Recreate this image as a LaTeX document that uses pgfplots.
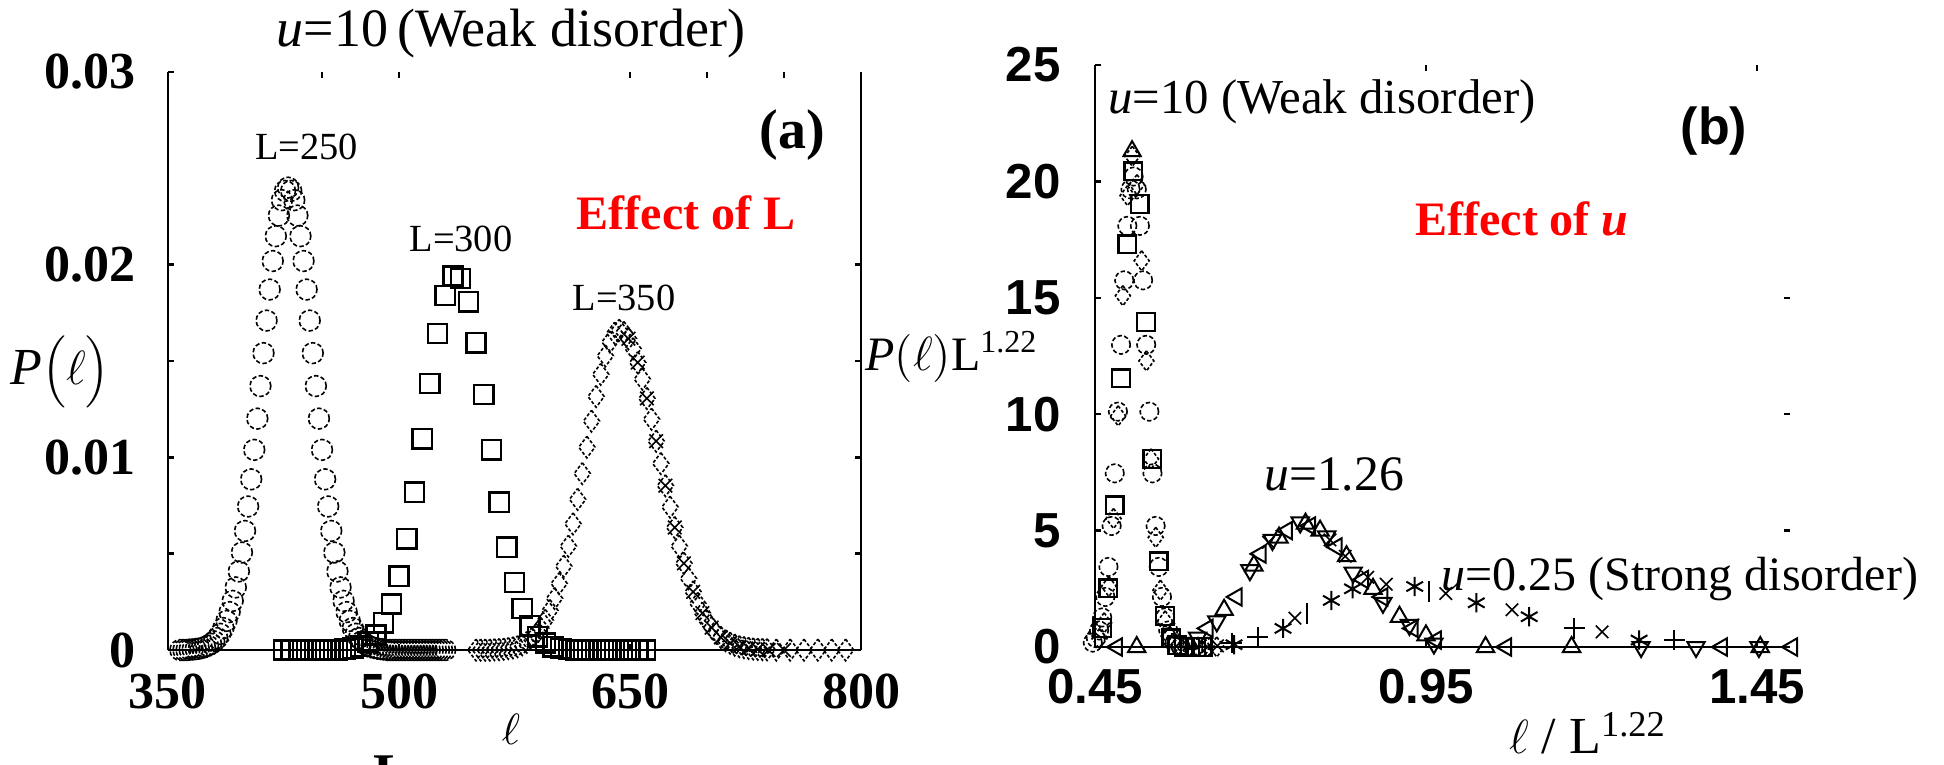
\documentclass[border=0pt]{standalone}
\usepackage{fontspec}
\setmainfont{Liberation Serif}
\setsansfont{Liberation Sans}
\usepackage{pgfplots}
\pgfplotsset{compat=1.18}

\pgfplotsset{
  panel/.style={scale only axis, anchor=south west, enlargelimits=false, clip=false,
    scaled ticks=false, axis line style={-, line width=0.55pt},
    tick align=inside, major tick length=1.6pt, minor tick length=1.6pt,
    tick style={black, line width=0.6pt}},
  circ/.style={black, only marks, mark=o, mark size=#1,
    mark options={line width=0.4pt, dash pattern=on 1.1pt off 0.6pt}},
  sq/.style={black, only marks, mark=square, mark size=#1, mark options={line width=0.6pt}},
  dia/.style={black, only marks, mark=diamond, mark size=#1,
    mark options={line width=0.4pt, dash pattern=on 0.8pt off 0.5pt}},
  cross/.style={black, only marks, mark=x, mark size=#1, mark options={line width=0.4pt}},
  tri/.style={black, only marks, mark=triangle, mark size=2.5pt, mark options={line width=0.5pt}},
  trid/.style={black, only marks, mark=triangle, mark size=2.5pt, mark options={line width=0.5pt, rotate=180}},
  tril/.style={black, only marks, mark=triangle, mark size=2.5pt, mark options={line width=0.5pt, rotate=90}},
}

\begin{document}
\begin{tikzpicture}[x=1pt,y=1pt]
\path[use as bounding box] (0,0) rectangle (486,191);

% ---------- panel (a)
\begin{axis}[panel, at={(42pt,28.5pt)}, width=173.25pt, height=144.5pt,
  xmin=350, xmax=800, ymin=0, ymax=0.03,
  axis x line*=bottom, axis y line*=left,
  xtick={350,500,650,800}, xticklabels={350,500,650,800},
  ytick={0,0.01,0.02,0.03}, yticklabels={0,0.01,0.02,0.03},
  minor ytick={0.005,0.015},
  ticklabel style={font=\fontsize{13}{13}\selectfont\bfseries},
  xticklabel style={yshift=-2.4pt}, yticklabel style={xshift=-4.7pt}]
% L=250
\addplot[circ=2.6pt] coordinates {
(358,0) (360,0) (362,0) (364,0.00002) (366,0.00003) (368,0.00005) (370,0.00007) (372,0.00011)
(374,0.00015) (376,0.00022) (378,0.00032) (380,0.00045) (382,0.00062) (384,0.00084) (386,0.00114)
(388,0.00151) (390,0.00197) (392,0.00255) (394,0.00325) (396,0.00408) (398,0.00506) (400,0.00618)
(402,0.00745) (404,0.00886) (406,0.01039) (408,0.01201) (410,0.01370) (412,0.01541) (414,0.01710)
(416,0.01871) (418,0.02019) (420,0.02148) (422,0.02255) (424,0.02335) (426,0.02383) (428,0.02400)
(430,0.02383) (432,0.02335) (434,0.02255) (436,0.02148) (438,0.02019) (440,0.01871) (442,0.01710)
(444,0.01541) (446,0.01370) (448,0.01201) (450,0.01039) (452,0.00886) (454,0.00745) (456,0.00618)
(458,0.00506) (460,0.00408) (462,0.00325) (464,0.00255) (466,0.00197) (468,0.00151) (470,0.00114)
(472,0.00084) (474,0.00062) (476,0.00045) (478,0.00032) (480,0.00022) (482,0.00015) (484,0.00011)
(486,0.00007) (488,0.00005) (490,0.00003) (492,0) (494,0) (496,0) (498,0) (500,0) (502,0) (504,0)
(506,0) (508,0) (510,0) (512,0) (514,0) (516,0) (518,0) (520,0) (522,0) (524,0) (526,0) (528,0) (530,0)
};
% L=300
\addplot[sq=2.4pt] coordinates {
(425,0) (430,0) (435,0) (440,0) (445,0) (450,0) (455,0) (460,0) (465,0.00004) (470,0.00009)
(475,0.00020) (480,0.00041) (485,0.00078) (490,0.00141) (495,0.00239) (500,0.00383) (505,0.00577)
(510,0.00819) (515,0.01096) (520,0.01383) (525,0.01643) (530,0.01840) (535,0.01941) (540,0.01929)
(545,0.01807) (550,0.01595) (555,0.01326) (560,0.01039) (565,0.00767) (570,0.00534) (575,0.00350)
(580,0.00216) (585,0.00126) (590,0.00069) (595,0.00036) (600,0.00017) (605,0.00008) (610,0.00003)
(615,0) (620,0) (625,0) (630,0) (635,0) (640,0) (645,0) (650,0) (655,0) (660,0)
};
% L=350
\addplot[dia=2.7pt] coordinates {
(550,0) (553,0) (556,0) (559,0) (562,0.00002) (565,0.00003) (568,0.00005) (571,0.00008) (574,0.00012)
(577,0.00018) (580,0.00028) (583,0.00040) (586,0.00058) (589,0.00082) (592,0.00113) (595,0.00154)
(598,0.00205) (601,0.00268) (604,0.00345) (607,0.00435) (610,0.00539) (613,0.00655) (616,0.00782)
(619,0.00916) (622,0.01053) (625,0.01188) (628,0.01316) (631,0.01431) (634,0.01527) (637,0.01599)
(640,0.01645) (643,0.01660) (646,0.01649) (649,0.01616) (652,0.01564) (655,0.01492) (658,0.01406)
(661,0.01306) (664,0.01198) (667,0.01084) (670,0.00968) (673,0.00853) (676,0.00742) (679,0.00636)
(682,0.00539) (685,0.00450) (688,0.00371) (691,0.00302) (694,0.00242) (697,0.00192) (700,0.00150)
(703,0.00116) (706,0.00088) (709,0.00066) (712,0.00049) (715,0.00036) (718,0.00026) (721,0.00018)
(724,0.00013) (727,0.00009) (730,0.00006) (733,0.00004) (736,0.00003) (739,0.00002)
(745,0) (754,0) (763,0) (772,0) (781,0) (790,0)
};
\addplot[cross=2.4pt] coordinates {
(649,0.01616) (655,0.01492) (661,0.01306) (667,0.01084) (673,0.00853) (679,0.00636) (685,0.00450)
(691,0.00302) (697,0.00192) (703,0.00116) (709,0.00066) (715,0.00036) (721,0.00018) (727,0.00009)
(733,0.00004) (740,0) (750,0)
};
\end{axis}
\begin{axis}[panel, at={(42pt,28.5pt)}, width=173.25pt, height=144.5pt,
  xmin=350, xmax=800, ymin=0, ymax=0.03,
  axis x line*=top, axis y line*=right, x axis line style={draw=none},
  xtick={450,500,650,700,750}, xticklabels={},
  ytick={0.005,0.01,0.015,0.02}, yticklabels={}]
\end{axis}

% ---------- panel (b)
\begin{axis}[panel, at={(273.75pt,29.25pt)}, width=173.75pt, height=145.5pt,
  xmin=0.45, xmax=1.5, ymin=0, ymax=25,
  axis x line*=bottom, axis y line*=left,
  xtick={0.45,0.95,1.45}, xticklabels={0.45,0.95,1.45},
  ytick={0,5,10,15,20,25}, yticklabels={0,5,10,15,20,25},
  ticklabel style={font=\fontsize{12.3}{12.3}\selectfont\sffamily\bfseries},
  xticklabel style={yshift=-2.1pt}, yticklabel style={xshift=-5.1pt}]
% u=10
\addplot[circ=2.3pt] coordinates {
(0.4466,0.19) (0.4513,0.38) (0.4561,0.71) (0.4608,1.27) (0.4656,2.15) (0.4703,3.44) (0.4751,5.20)
(0.4798,7.46) (0.4846,10.11) (0.4893,12.98) (0.4941,15.75) (0.4988,18.09) (0.5036,19.66) (0.5083,20.21)
(0.5131,19.66) (0.5178,18.09) (0.5226,15.75) (0.5273,12.98) (0.5321,10.11) (0.5368,7.46) (0.5416,5.20)
(0.5463,3.44) (0.5511,2.15) (0.5558,1.27) (0.5606,0.71) (0.5653,0.38) (0.5701,0.19) (0.5796,0)
(0.5891,0) (0.5986,0) (0.6081,0)
};
\addplot[sq=2.2pt] coordinates {
(0.4606,0.82) (0.4701,2.52) (0.4796,6.08) (0.4891,11.54) (0.4986,17.30) (0.5081,20.44) (0.5176,19.03)
(0.5271,13.96) (0.5366,8.08) (0.5461,3.69) (0.5556,1.33) (0.5651,0.38) (0.5745,0.08) (0.5840,0)
(0.5935,0) (0.6030,0) (0.6125,0)
};
\addplot[dia=2.5pt] coordinates {
(0.4567,0.36) (0.4638,1.04) (0.4709,2.60) (0.4780,5.52) (0.4850,9.93) (0.4921,15.09) (0.4992,19.39)
(0.5063,21.08) (0.5134,19.86) (0.5205,16.59) (0.5276,12.29) (0.5346,8.08) (0.5417,4.71) (0.5488,2.44)
(0.5559,1.12) (0.5630,0.46) (0.5701,0.17) (0.5772,0.05) (0.5913,0) (0.6055,0) (0.6197,0) (0.6339,0)
};
% u=1.26
\addplot[trid] coordinates {
(0.605,0.4) (0.634,1.1) (0.684,3.3) (0.718,4.6) (0.760,5.35) (0.800,4.75) (0.840,3.2) (0.885,1.9)
(0.925,0.95) (0.962,0.15) (1.275,0) (1.358,0) (1.453,0)
};
\addplot[tril] coordinates {
(0.483,0) (0.620,0.8) (0.664,2.15) (0.700,4.0) (0.740,5.0) (0.775,5.2) (0.815,4.3) (0.855,2.9)
(0.884,2.15) (0.930,0.8) (0.965,0.3) (1.071,0) (1.397,0) (1.503,0)
};
\addplot[tri] coordinates {
(0.506,21.3) (0.513,0) (0.645,1.6) (0.690,3.5) (0.728,4.7) (0.768,5.3) (0.790,5.0) (0.830,3.9)
(0.870,2.5) (0.910,1.3) (0.950,0.5) (1.040,0) (1.170,0) (1.455,0)
};
% u=0.25
\addplot[cross=2.2pt] coordinates {
(0.620,0) (0.635,0.05) (0.712,4.5) (0.752,1.24) (0.805,4.6) (0.828,3.9) (0.862,3.0) (0.890,2.7)
(0.980,2.3) (1.080,1.6) (1.216,0.65)
};
\addplot[black, only marks, mark=asterisk, mark size=2.4pt, mark options={line width=0.5pt}] coordinates {
(0.660,0.1) (0.734,0.8) (0.807,2.0) (0.839,2.5) (0.933,2.6) (1.026,1.9) (1.106,1.3) (1.272,0.3)
};
\addplot[black, only marks, mark=+, mark size=2.6pt, mark options={line width=0.5pt}] coordinates {
(0.657,0.17) (0.696,0.43) (1.174,0.8) (1.325,0.3)
};
\addplot[black, only marks, mark=|, mark size=2.6pt, mark options={line width=0.6pt}] coordinates {
(0.770,1.45) (0.955,2.4)
};
\end{axis}
\begin{axis}[panel, at={(273.75pt,29.25pt)}, width=173.75pt, height=145.5pt,
  xmin=0.45, xmax=1.5, ymin=0, ymax=25,
  axis x line*=top, axis y line*=right, axis line style={draw=none},
  xtick={0.95,1.45}, xticklabels={}, ytick={5,10,15}, yticklabels={}]
\end{axis}

% ---------- texts, panel (a)
\node[anchor=base] at (127.75,179.3) {\fontsize{13.5}{15}\selectfont\textit{u}=10\,(Weak disorder)};
\node[anchor=base] at (76.6,151.2) {\fontsize{9.6}{11}\selectfont L=250};
\node[anchor=base] at (115.25,128.1) {\fontsize{9.6}{11}\selectfont L=300};
\node[anchor=base] at (156,113.5) {\fontsize{9.6}{11}\selectfont L=350};
\node[anchor=base, text=red] at (171.5,133.7) {\fontsize{12}{14}\selectfont\bfseries Effect of L};
\node at (198,157.25) {\fontsize{14}{16}\selectfont\bfseries (a)};
\node at (15,98) {\fontsize{13}{15}\selectfont\textit{P}$\Big(\ell\Big)$};
\node at (127.75,8.75) {\fontsize{11}{13}\selectfont$\ell$};
\node[anchor=north west, inner sep=0pt] at (93.25,2.25) {\fontsize{14}{14}\selectfont\bfseries L};

% ---------- texts, panel (b)
\node at (238,101.75) {\fontsize{12}{14}\selectfont\textit{P}$\big(\ell\big)$L\textsuperscript{1.22}};
\node[anchor=base] at (330.5,162.75) {\fontsize{12.2}{14}\selectfont\textit{u}=10 (Weak disorder)};
\node at (428.5,158.25) {\fontsize{13}{15}\selectfont\sffamily\bfseries (b)};
\node[anchor=base, text=red] at (380.5,132.25) {\fontsize{12}{14}\selectfont\bfseries Effect of \textit{u}};
\node[anchor=base] at (333.5,68.5) {\fontsize{12.4}{14}\selectfont\textit{u}=1.26};
\node[anchor=base] at (420,43.5) {\fontsize{12}{14}\selectfont\textit{u}=0.25 (Strong disorder)};
\node at (397,7.75) {\fontsize{13}{15}\selectfont$\ell$ / L\textsuperscript{1.22}};
\end{tikzpicture}
\end{document}
